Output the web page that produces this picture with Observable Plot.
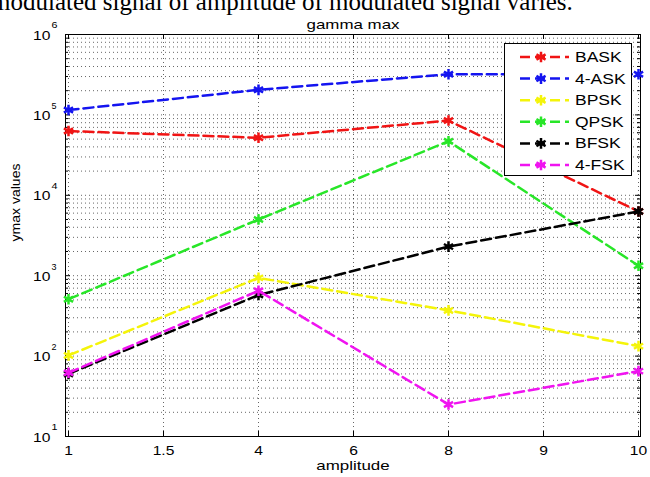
<!DOCTYPE html>
<html>
<head>
<meta charset="utf-8">
<script src="https://cdn.jsdelivr.net/npm/d3@7"></script>
<script src="https://cdn.jsdelivr.net/npm/@observablehq/plot@0.6"></script>
<style>
html,body{margin:0;padding:0;background:#fff;}
#wrap{position:relative;width:650px;height:477px;overflow:hidden;background:#fff;}
#wrap svg.chart{position:absolute;left:0;top:0;}
#top{position:absolute;left:-9px;top:-10px;font-family:"Liberation Serif","Times New Roman",serif;font-size:25px;line-height:24px;white-space:nowrap;color:#000;}
#legend{position:absolute;left:504px;top:43px;width:128px;height:133px;border:1px solid #000;background:#fff;box-sizing:border-box;}
#legend .lab{position:absolute;left:70px;font-family:"Liberation Sans",Arial,sans-serif;font-size:14px;line-height:16px;transform:scaleX(1.25);transform-origin:left center;color:#000;white-space:nowrap;}
#legend svg{position:absolute;left:0;top:0;}
</style>
</head>
<body>
<div id="wrap">
  <div id="top">modulated signal of amplitude of modulated signal varies.</div>
</div>
<script>
// ---- data ----
const titleText = "gamma max";
const xLabel = "amplitude";
const yLabel = "ymax values";
const xTicks = ["1", "1.5", "4", "6", "8", "9", "10"];
const amplitude = ["1", "4", "8", "10"];
const yMajor = [1e1, 1e2, 1e3, 1e4, 1e5, 1e6];
const seriesNames = ["BASK", "4-ASK", "BPSK", "QPSK", "BFSK", "4-FSK"];
const seriesColors = ["#f01414", "#1414f0", "#f4f40a", "#28e628", "#000000", "#f014f0"];
const BASK = [6.3e4, 5.2e4, 8.5e4, 6.3e3];
const ASK4 = [1.15e5, 2.05e5, 3.2e5, 3.2e5];
const BPSK = [102, 940, 370, 133];
const QPSK = [510, 5000, 4.7e4, 1330];
const BFSK = [60, 575, 2300, 6300];
const FSK4 = [62, 650, 25, 65];
const seriesValues = [BASK, ASK4, BPSK, QPSK, BFSK, FSK4];

// minor log ticks (2..9 x each decade)
const yMinor = [];
for (let k = 1; k < 6; k++) for (let m = 2; m <= 9; m++) yMinor.push(m * Math.pow(10, k));

const W = 650, H = 477, mT = 34, mB = 41, mL = 65, mR = 10;
const fh = H - mT - mB, fw = W - mL - mR;

const series = seriesNames.map((name, i) => ({
  name, color: seriesColors[i],
  rows: amplitude.map((a, j) => ({x: a, y: seriesValues[i][j]}))
}));

const gridStyle = {stroke: "#000", strokeOpacity: 0.6, strokeDasharray: "1,3"};

const chart = Plot.plot({
  width: W, height: H,
  marginTop: mT, marginBottom: mB, marginLeft: mL, marginRight: mR,
  style: {fontFamily: "'Liberation Sans', Arial, sans-serif", fontSize: "13px", background: "transparent", color: "#000", overflow: "visible"},
  x: {type: "point", domain: xTicks, padding: 0, axis: null},
  y: {type: "log", domain: [10, 1e6], axis: null},
  marks: [
    Plot.gridX(xTicks, gridStyle),
    Plot.gridY(yMinor, gridStyle),
    Plot.gridY(yMajor, gridStyle),
    // inward ticks
    Plot.ruleX(xTicks, {x: d => d, insetTop: fh - 5, stroke: "#000"}),
    Plot.ruleX(xTicks, {x: d => d, insetBottom: fh - 5, stroke: "#000"}),
    Plot.ruleY(yMajor, {y: d => d, insetRight: fw - 5, stroke: "#000"}),
    Plot.ruleY(yMajor, {y: d => d, insetLeft: fw - 5, stroke: "#000"}),
    Plot.ruleY(yMinor, {y: d => d, insetRight: fw - 3, stroke: "#000"}),
    Plot.ruleY(yMinor, {y: d => d, insetLeft: fw - 3, stroke: "#000"}),
    Plot.frame({stroke: "#000", strokeWidth: 1}),
    // x tick labels
    Plot.axisX(xTicks, {tickSize: 0, tickPadding: 9, fontSize: 13, label: null}),
    // y tick labels: "10" + exponent
    Plot.text(yMajor, {y: d => d, frameAnchor: "left", text: () => "10", textAnchor: "end", dx: -15, dy: 1, fontSize: 13}),
    Plot.text(yMajor, {y: d => d, frameAnchor: "left", text: d => String(Math.round(Math.log10(d))), textAnchor: "start", dx: -14, dy: -9, fontSize: 9}),
    // series
    ...series.flatMap(s => [
      Plot.line(s.rows, {x: "x", y: "y", stroke: s.color, strokeWidth: 2.5, strokeDasharray: "10,5"}),
      Plot.dot(s.rows, {x: "x", y: "y", stroke: s.color, symbol: "asterisk", r: 5, strokeWidth: 2.5})
    ]),
    // title and axis labels
    Plot.text([titleText], {text: d => d, frameAnchor: "top", dy: -15, fontSize: 13}),
    Plot.text([xLabel], {text: d => d, frameAnchor: "bottom", dy: 33, fontSize: 13}),
    Plot.text([yLabel], {text: d => d, frameAnchor: "left", rotate: -90, dx: -50, dy: 6, fontSize: 13})
  ]
});
chart.classList.add("chart");
const wrap = document.getElementById("wrap");
wrap.insertBefore(chart, wrap.firstChild);

// horizontal stretch of some texts to mimic the reference's wide glyphs
const stretchK = new Map([[titleText, 1.3], [xLabel, 1.3], [yLabel, 1.08]]);
xTicks.forEach(t => stretchK.set(t, 1.2));
chart.querySelectorAll("text").forEach(t => {
  if (t.querySelector("tspan")) return;
  const k = stretchK.get(t.textContent);
  if (!k) return;
  let w = t.getComputedTextLength();
  if (!(w > 0)) w = t.getBBox().width;
  if (w > 0) {
    t.setAttribute("textLength", (w * k).toFixed(1));
    t.setAttribute("lengthAdjust", "spacingAndGlyphs");
  }
});

// legend
const legend = document.createElement("div");
legend.id = "legend";
const ns = "http://www.w3.org/2000/svg";
const lsvg = document.createElementNS(ns, "svg");
lsvg.setAttribute("width", 126);
lsvg.setAttribute("height", 131);
const sym = d3.symbol().type(d3.symbolAsterisk).size(Math.PI * 25);
seriesNames.forEach((name, i) => {
  const cy = 13 + 21.6 * i;
  const line = document.createElementNS(ns, "line");
  line.setAttribute("x1", 15); line.setAttribute("x2", 64);
  line.setAttribute("y1", cy); line.setAttribute("y2", cy);
  line.setAttribute("stroke", seriesColors[i]);
  line.setAttribute("stroke-width", 2.5);
  line.setAttribute("stroke-dasharray", "10,5");
  lsvg.appendChild(line);
  const p = document.createElementNS(ns, "path");
  p.setAttribute("d", sym());
  p.setAttribute("transform", `translate(36,${cy})`);
  p.setAttribute("stroke", seriesColors[i]);
  p.setAttribute("stroke-width", 2.5);
  p.setAttribute("fill", "none");
  lsvg.appendChild(p);
  const lab = document.createElement("div");
  lab.className = "lab";
  lab.style.top = (cy - 8) + "px";
  lab.textContent = name;
  legend.appendChild(lab);
});
legend.insertBefore(lsvg, legend.firstChild);
wrap.appendChild(legend);
</script>
</body>
</html>
